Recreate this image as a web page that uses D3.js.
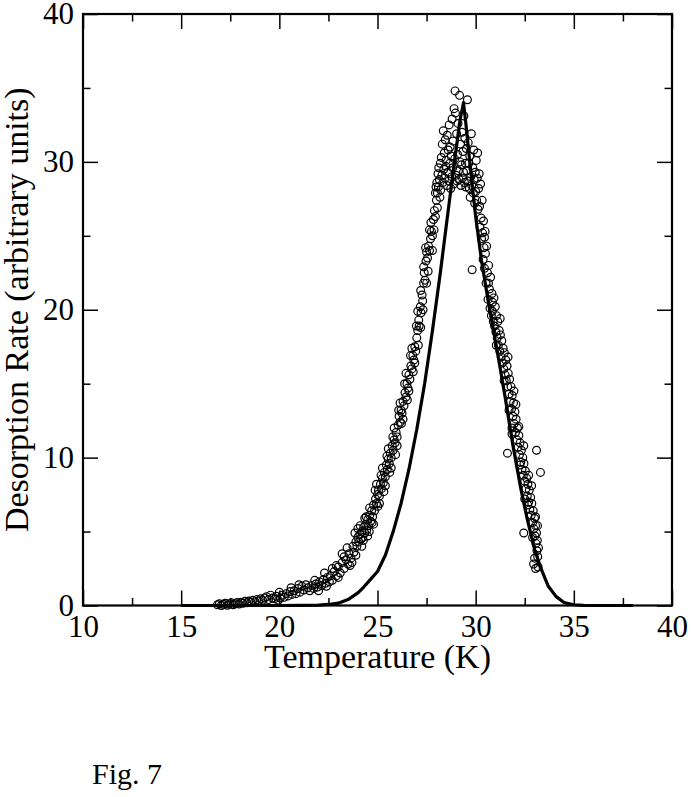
<!DOCTYPE html>
<html>
<head>
<meta charset="utf-8">
<script src="https://cdn.jsdelivr.net/npm/d3@7"></script>
<style>
  body { margin: 0; background: #fff; }
  text { font-family: "Liberation Serif", "Times New Roman", serif; fill: #000; }
</style>
</head>
<body>
<div id="chart"></div>
<script>
// tick values
const xMajor = [10, 15, 20, 25, 30, 35, 40];
const xMinor = [12.5, 17.5, 22.5, 27.5, 32.5, 37.5];
const yMajor = [0, 10, 20, 30, 40];
const yMinor = [5, 15, 25, 35];

// model curve
const fitTemp = [15, 18, 20, 21, 22, 22.5, 23, 23.5, 24, 24.3, 24.6, 25, 25.4, 25.8, 26.2, 26.6, 27, 27.4,
  27.8, 28.2, 28.6, 29, 29.2, 29.38, 29.5, 29.7, 30, 30.3, 30.7, 31.1, 31.5, 31.9, 32.3, 32.6, 33, 33.3,
  33.7, 34.1, 34.5, 35, 35.5, 36, 38];
const fitRate = [0, 0, 0, 0.01, 0.03, 0.07, 0.16, 0.4, 0.85, 1.25, 1.7, 2.3, 3.4, 5.0, 6.9, 9.2, 11.9, 15.0,
  18.6, 22.5, 26.7, 30.8, 32.8, 34.0, 32.6, 30.0, 26.3, 23.3, 20.1, 17.2, 14.1, 10.8, 7.9, 6.0, 3.8, 2.6,
  1.3, 0.6, 0.2, 0.05, 0.01, 0, 0];

const expTemp = [
  16.85, 16.95, 17.05, 17.15, 17.25, 17.35, 17.45, 17.55, 17.65, 17.75, 17.85, 17.95, 18.05, 18.15, 18.25,
  18.35, 18.45, 18.55, 18.65, 18.75, 18.85, 18.95, 19.05, 19.15, 19.25, 19.35, 19.45, 19.55, 19.65, 19.75,
  19.85, 19.95, 20.05,
  20.15, 20.25, 20.35, 20.45, 20.55, 20.65, 20.75, 20.85, 20.95, 21.05, 21.15, 21.25, 21.35, 21.45, 21.55,
  21.65, 21.75, 21.85, 21.95, 22.05, 22.15, 22.25, 22.35, 22.45, 22.55,
  22.6, 22.7, 22.8, 22.9, 23.0, 23.1, 23.2, 23.3, 23.4, 23.5, 23.55, 23.65, 23.75, 23.8, 23.9, 23.95, 24.0,
  24.05, 24.1, 24.15, 24.2, 24.25, 24.3, 24.35, 24.4, 24.45, 24.5, 24.55, 24.6, 24.65, 24.7, 24.75, 24.8,
  24.85, 24.9, 24.95, 25.0,
  25.05, 25.1, 25.15, 25.2, 25.25, 25.3, 25.35, 25.4, 25.45, 25.5, 25.55, 25.6, 25.65, 25.7, 25.75, 25.8,
  25.85, 25.9, 25.95, 26.0,
  26.05, 26.1, 26.15, 26.2, 26.25, 26.3, 26.35, 26.4, 26.45, 26.5, 26.55, 26.6, 26.65, 26.7, 26.75, 26.8,
  26.85, 26.9, 26.95, 27.0,
  27.05, 27.1, 27.12, 27.18, 27.22, 27.27, 27.3, 27.35, 27.38, 27.42, 27.47, 27.5, 27.55, 27.6, 27.65, 27.7,
  27.75, 27.8, 27.85, 27.9, 27.95, 28.0,
  28.02, 28.05, 28.08, 28.1, 28.12, 28.15, 28.18, 28.2, 28.22, 28.25, 28.28, 28.3, 28.33, 28.35, 28.38, 28.4,
  28.43, 28.45, 28.48, 28.5, 28.53, 28.55, 28.58, 28.6, 28.63, 28.65, 28.68, 28.7, 28.73, 28.75, 28.78, 28.8,
  28.83, 28.85, 28.88, 28.9, 28.93, 28.95, 28.97, 29.0, 29.03, 29.05, 29.08, 29.1, 29.12, 29.15, 29.18, 29.2,
  29.23, 29.25, 29.28, 29.3, 29.33, 29.35, 29.38, 29.4, 29.43, 29.45, 29.48, 29.5,
  29.52, 29.55, 29.58, 29.6, 29.62, 29.65, 29.68, 29.7, 29.72, 29.75, 29.78, 29.8, 29.82, 29.85, 29.88, 29.9,
  29.92, 29.95, 29.98, 30.0, 30.03, 30.05, 30.08, 30.1, 30.12, 30.15, 30.18, 30.2, 30.22, 30.25, 30.28, 30.3,
  30.33, 30.35, 30.38, 30.4, 30.43, 30.45, 30.48, 30.5,
  30.53, 30.56, 30.6, 30.63, 30.66, 30.7, 30.73, 30.76, 30.8, 30.83, 30.86, 30.9, 30.93, 30.96, 31.0, 31.03,
  31.06, 31.1, 31.13, 31.16, 31.2, 31.23, 31.26, 31.3, 31.33, 31.36, 31.4, 31.43, 31.46, 31.5,
  31.53, 31.56, 31.6, 31.63, 31.66, 31.7, 31.73, 31.76, 31.8, 31.83, 31.86, 31.9, 31.93, 31.96, 32.0, 32.03,
  32.06, 32.1, 32.13, 32.16, 32.2, 32.23, 32.26, 32.3, 32.33, 32.36, 32.4, 32.43, 32.46, 32.5, 31.62, 31.85,
  32.53, 32.56, 32.6, 32.63, 32.66, 32.7, 32.73, 32.76, 32.8, 32.83, 32.86, 32.9, 32.93, 32.96, 33.0, 33.02,
  33.05, 33.07, 33.1, 33.12, 33.14, 33.16, 33.18, 32.95, 33.05, 33.1, 33.3, 32.45, 33.2,
  24.12, 24.28, 24.42, 24.58, 24.72, 24.88, 25.02, 25.18, 25.32, 25.48, 25.62, 25.78, 25.92, 26.08, 26.22,
  26.38, 26.52, 26.68, 26.82, 26.98, 27.08, 27.2, 27.32, 27.45, 27.58, 27.72, 27.88, 27.98, 23.2, 23.45,
  23.6, 23.85, 22.3, 22.9, 21.8, 21.0, 20.6, 20.0,
  22.0, 22.4, 22.7, 23.0, 23.3, 23.7, 23.9, 24.0, 24.2, 24.35, 24.5, 24.6, 24.8, 24.95, 25.1, 25.25,
  25.4, 25.55, 25.7, 25.85, 26.0, 26.15, 26.3, 26.45, 26.6, 26.75, 26.9, 27.05, 27.2, 27.35, 27.5, 27.65,
  27.8, 27.95, 28.05,
  30.45, 30.65, 30.85, 31.05, 31.25, 31.45, 31.65, 31.85, 32.05, 32.25, 32.45, 32.65, 32.85, 33.05, 33.15,
  32.9, 33.0, 32.7, 32.5, 32.2, 31.95, 31.7
];
const expRate = [
  0.05, 0.12, 0.0, 0.08, 0.15, 0.02, 0.1, 0.18, 0.05, 0.12, 0.2, 0.1, 0.22, 0.15, 0.28,
  0.18, 0.3, 0.22, 0.35, 0.25, 0.4, 0.3, 0.45, 0.35, 0.5, 0.6, 0.4, 0.7, 0.5, 0.45,
  0.62, 0.35, 0.5,
  0.7, 0.55, 0.8, 0.65, 0.95, 0.75, 1.0, 0.8, 1.15, 0.9, 1.3, 1.05, 1.4, 1.2, 1.0,
  1.35, 1.15, 1.45, 1.25, 1.6, 1.35, 1.75, 1.5, 1.9, 1.6,
  2.0, 1.7, 2.3, 2.0, 2.6, 2.2, 2.9, 2.5, 3.1, 2.8, 3.5, 3.2, 4.0, 3.6, 4.3, 4.0, 4.6,
  4.3, 4.8, 4.5, 5.0, 4.6, 5.3, 4.9, 5.5, 5.1, 5.8, 5.4, 6.1, 5.7, 6.4, 6.0, 6.8,
  6.4, 7.2, 6.9, 7.5,
  7.8, 7.4, 8.2, 7.9, 8.6, 8.3, 9.0, 8.7, 9.5, 9.2, 9.9, 9.6, 10.3, 10.0, 10.8, 10.5,
  11.2, 11.0, 11.7, 11.4,
  12.2, 12.8, 12.4, 13.2, 13.0, 13.8, 13.5, 14.4, 14.1, 15.0, 14.7, 15.6, 15.3, 16.2, 16.0, 16.9,
  16.6, 17.5, 17.2, 18.1,
  18.6, 19.3, 18.9, 20.2, 19.8, 21.0, 20.6, 21.8, 22.5, 22.0, 23.3, 23.9, 23.5, 24.3, 24.0, 24.8,
  25.3, 25.0, 26.1, 26.7, 26.3, 27.4,
  28.6, 27.9, 29.2, 28.3, 29.6, 28.8, 27.6, 29.9, 28.1, 30.3, 29.1, 31.2, 28.6, 32.1, 29.5, 30.6,
  28.9, 31.5, 29.7, 30.1, 28.4, 31.8, 29.3, 30.8, 28.7, 32.5, 29.9, 31.0, 28.2, 30.4, 29.0, 32.9,
  29.6, 31.4, 28.5, 33.6, 30.2, 34.8, 33.3, 29.1, 31.9, 28.7, 30.5, 32.6, 29.4, 28.8, 34.5, 30.0,
  31.2, 28.4, 29.8, 32.0, 28.9, 30.7, 29.3, 33.1, 28.6, 31.6, 29.9, 28.3,
  30.9, 29.4, 34.2, 28.7, 31.3, 29.9, 28.2, 30.4, 27.6, 29.0, 31.9, 28.4, 22.7, 29.6, 27.9, 30.8,
  28.8, 27.2, 29.3, 28.0, 30.1, 27.4, 28.9, 30.6, 26.8, 28.2, 29.2, 27.0, 25.6, 28.5, 26.2, 24.8,
  27.4, 25.2, 23.4, 26.0, 24.2, 22.8, 25.3, 23.8,
  21.8, 24.3, 22.5, 20.7, 23.0, 21.4, 20.1, 22.2, 19.6, 21.1, 20.5, 19.2, 20.8, 18.9, 20.2, 18.5,
  19.6, 18.1, 19.2, 17.6, 18.6, 17.2, 18.3, 16.8, 17.9, 16.4, 17.4, 16.0, 17.1, 15.6,
  16.6, 15.2, 16.2, 14.8, 15.7, 14.3, 15.3, 13.8, 14.8, 13.3, 14.2, 12.8, 13.7, 12.3, 13.1, 11.7,
  12.6, 11.2, 12.0, 10.7, 11.5, 10.2, 11.0, 9.7, 10.5, 9.2, 10.0, 8.8, 9.6, 8.4, 10.3, 12.0,
  9.1, 7.9, 8.6, 7.4, 8.2, 7.0, 7.8, 6.5, 7.3, 6.1, 6.9, 5.6, 6.4, 5.2, 5.9, 4.7,
  5.4, 4.2, 4.9, 3.7, 4.4, 3.3, 2.6, 2.8, 2.5, 10.5, 9.0, 4.9, 3.9,
  5.4, 4.4, 6.0, 5.0, 5.6, 7.8, 6.7, 8.8, 7.7, 10.1, 9.0, 11.4, 10.2, 13.2, 12.3,
  15.0, 13.9, 16.9, 15.8, 18.9, 17.6, 21.3, 20.0, 24.2, 22.6, 25.9, 25.4, 28.3, 3.5, 3.9,
  2.7, 4.9, 2.2, 2.7, 1.7, 1.4, 1.2, 0.9,
  1.0, 1.3, 2.5, 1.9, 3.3, 2.9, 3.4, 5.2, 4.0, 5.9, 4.7, 6.6, 5.5, 8.2, 6.9, 9.3,
  8.1, 10.6, 9.3, 12.0, 10.8, 13.7, 12.6, 15.7, 14.5, 17.4, 16.4, 19.9, 18.8, 22.9, 21.8, 25.4,
  24.0, 27.9, 26.9,
  24.9, 21.8, 19.9, 17.6, 19.4, 15.2, 16.8, 11.6, 13.6, 9.5, 10.8, 6.8, 8.1, 6.0, 5.4,
  4.6, 3.2, 8.8, 7.2, 12.1, 14.5, 13.2
];

const W = 692;
const H = 797;
const margin = { top: 14, right: 20, bottom: 191.5, left: 83 };
const width = W - margin.left - margin.right;
const height = H - margin.top - margin.bottom;

const svg = d3.select('#chart')
  .append('svg')
  .attr('width', W)
  .attr('height', H)
  .append('g')
  .attr('transform', `translate(${margin.left},${margin.top})`);

const x = d3.scaleLinear().domain([10, 40]).range([0, width]);
const y = d3.scaleLinear().domain([0, 40]).range([height, 0]);

const major = 15;
const minor = 7.5;

function styleAxis(g) {
  g.select('.domain').remove();
  g.selectAll('line').attr('stroke', '#000').attr('stroke-width', 1.5);
  g.selectAll('text').style('font-size', '31px').style('font-family', '"Liberation Serif", serif');
}

// bottom axis with labels
svg.append('g')
  .attr('transform', `translate(0,${height})`)
  .call(d3.axisBottom(x).tickValues(xMajor).tickSize(-major).tickPadding(9.5).tickFormat(d3.format('d')))
  .call(styleAxis);
svg.append('g')
  .attr('transform', `translate(0,${height})`)
  .call(d3.axisBottom(x).tickValues(xMinor).tickSize(-minor).tickFormat(''))
  .call(styleAxis);
// top axis
svg.append('g')
  .call(d3.axisTop(x).tickValues(xMajor).tickSize(-major).tickFormat(''))
  .call(styleAxis);
svg.append('g')
  .call(d3.axisTop(x).tickValues(xMinor).tickSize(-minor).tickFormat(''))
  .call(styleAxis);
// left axis with labels
svg.append('g')
  .call(d3.axisLeft(y).tickValues(yMajor).tickSize(-major).tickPadding(9).tickFormat(d3.format('d')))
  .call(styleAxis);
svg.append('g')
  .call(d3.axisLeft(y).tickValues(yMinor).tickSize(-minor).tickFormat(''))
  .call(styleAxis);
// right axis
svg.append('g')
  .attr('transform', `translate(${width},0)`)
  .call(d3.axisRight(y).tickValues(yMajor).tickSize(-major).tickFormat(''))
  .call(styleAxis);
svg.append('g')
  .attr('transform', `translate(${width},0)`)
  .call(d3.axisRight(y).tickValues(yMinor).tickSize(-minor).tickFormat(''))
  .call(styleAxis);

// frame
svg.append('rect')
  .attr('width', width)
  .attr('height', height)
  .attr('fill', 'none')
  .attr('stroke', '#000')
  .attr('stroke-width', 2.2);

// experimental points
const points = expTemp.map((t, i) => ({ t, r: expRate[i] }));
svg.append('g')
  .selectAll('circle')
  .data(points)
  .enter()
  .append('circle')
  .attr('cx', d => x(d.t))
  .attr('cy', d => y(d.r))
  .attr('r', 3.9)
  .attr('fill', 'none')
  .attr('stroke', '#000')
  .attr('stroke-width', 1.2);

// model curve
const fit = fitTemp.map((t, i) => ({ t, r: fitRate[i] }));
svg.append('path')
  .datum(fit)
  .attr('fill', 'none')
  .attr('stroke', '#000')
  .attr('stroke-width', 3.2)
  .attr('stroke-linejoin', 'round')
  .attr('d', d3.line().x(d => x(d.t)).y(d => y(d.r)));

// axis titles
svg.append('text')
  .attr('x', width / 2)
  .attr('y', height + 62.5)
  .attr('text-anchor', 'middle')
  .style('font-size', '34px')
  .text('Temperature (K)');

svg.append('text')
  .attr('transform', `translate(${28 - margin.left},${height / 2}) rotate(-90)`)
  .attr('text-anchor', 'middle')
  .style('font-size', '34px')
  .text('Desorption Rate (arbitrary units)');

svg.append('text')
  .attr('x', 92 - margin.left)
  .attr('y', 784 - margin.top)
  .style('font-size', '30px')
  .text('Fig. 7');
</script>
</body>
</html>
